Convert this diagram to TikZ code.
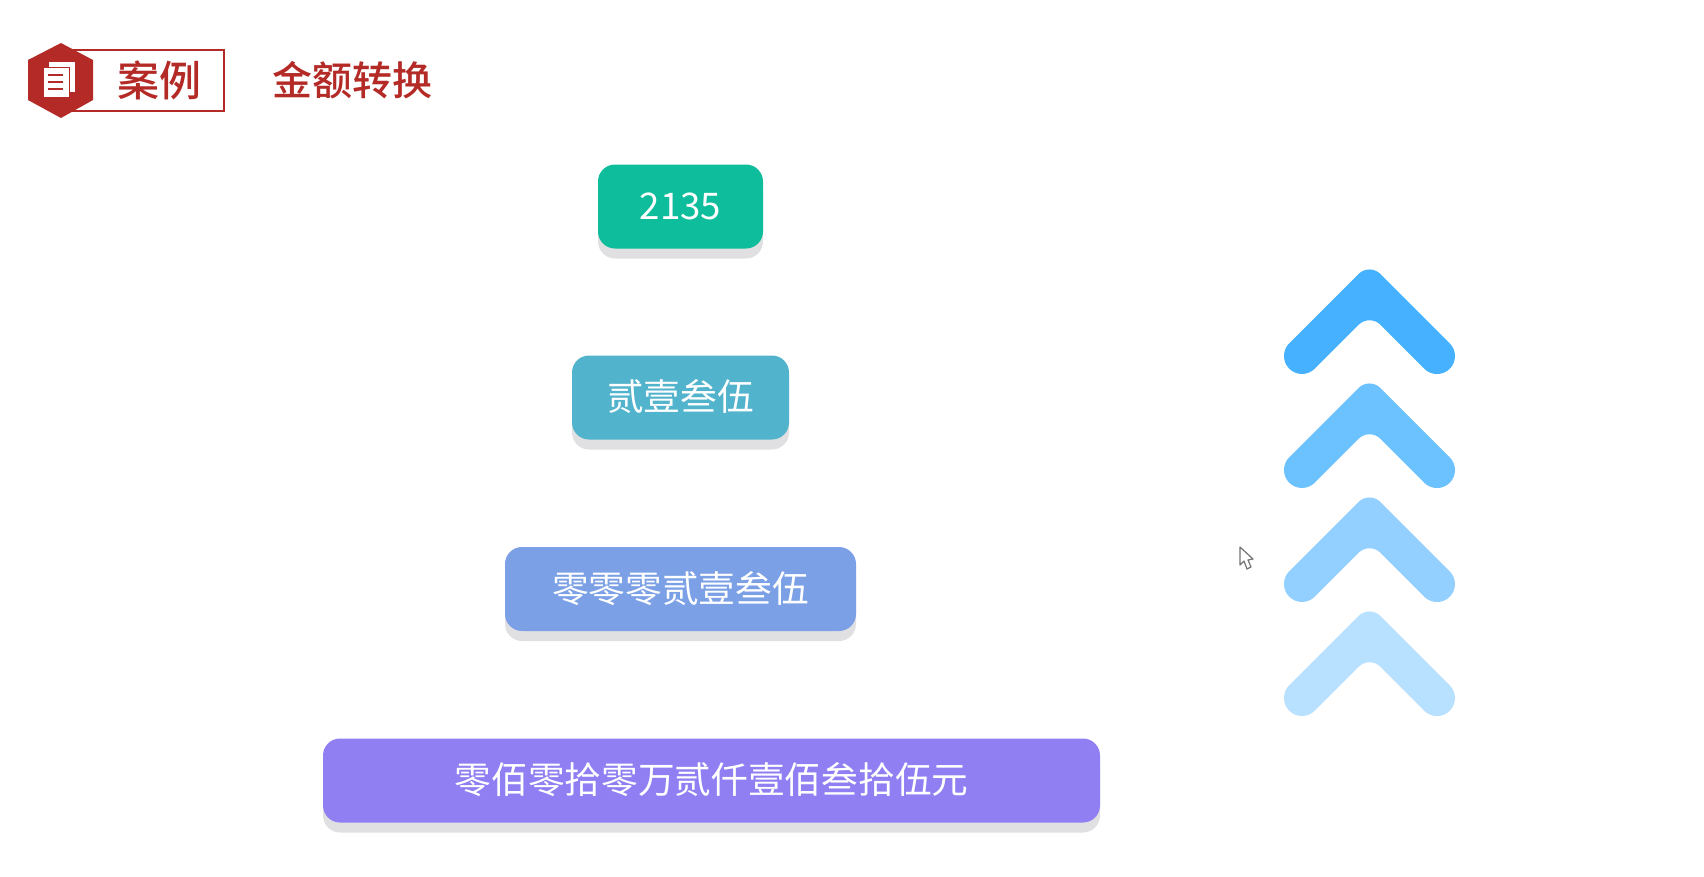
\documentclass[tikz,border=0pt]{standalone}
\usepackage{fontspec}
\usepackage{xcolor}
\usepackage{tikz}
\usetikzlibrary{shadows}
\newfontfamily\cjk{Noto Sans CJK SC}
\newfontfamily\cjkmed{Noto Sans CJK SC Medium}
\definecolor{case_red}{RGB}{180, 42, 38}
\definecolor{step_green}{RGB}{13, 189, 156}
\definecolor{step_teal}{RGB}{82, 179, 204}
\definecolor{step_blue}{RGB}{123, 160, 230}
\definecolor{step_purple}{RGB}{143, 127, 242}
\definecolor{shadow_grey}{RGB}{224, 224, 226}

\begin{document}
\begin{tikzpicture}[x=1pt, y=-1pt, font=\cjk,
      stepbox/.style={rounded corners=17pt, text=white, align=center, inner sep=0pt,
        minimum height=84pt, text height=30pt, text depth=4pt, font=\cjk\fontsize{36.7}{40}\selectfont,
        general shadow={shadow xshift=0pt, shadow yshift=-10pt, fill=shadow_grey}},
      head/.style={text=case_red, inner sep=0pt, font=\cjkmed\fontsize{40}{44}\selectfont}]
    \useasboundingbox (0,0) rectangle (1704,876);
    % header
    \draw[case_red, line width=1.8pt] (70,50) rectangle (224,111);
    \fill[case_red] (61,43) -- (93,60) -- (93,100) -- (61,118) -- (28,100) -- (28,60) -- cycle;
    \fill[white] (49,62) rectangle (75,92);
    \draw[case_red, line width=1pt, fill=white] (43,67) rectangle (69,97);
    \foreach \y in {75,82,89} \draw[case_red, line width=1.6pt] (48,\y) -- (63,\y);
    \node[head, font=\cjkmed\fontsize{42}{46}\selectfont] (tag) at (159,80) {案例};
    \node[head] (title) at (352,80) {金额转换};
    % steps
    \node[stepbox, fill=step_green, minimum width=165pt] (num) at (680.5,206.5) {2135};
    \node[stepbox, fill=step_teal, minimum width=217pt] (caps) at (680.5,397.5) {贰壹叁伍};
    \node[stepbox, fill=step_blue, minimum width=351pt] (pad) at (680.5,589) {零零零贰壹叁伍};
    \node[stepbox, fill=step_purple, minimum width=777pt] (units) at (711.5,780.5) {零佰零拾零万贰仟壹佰叁拾伍元};
    % chevrons
    \foreach \i/\c in {0/46B1FF, 1/6CC1FF, 2/93CFFF, 3/B8E0FF} {
      \definecolor{chev}{HTML}{\c}
      \begin{scope}[shift={(0,114*\i+1)}]
        \fill[chev] (1289.3,342.3) -- (1358.5,273) arc[start angle=-135, end angle=-45, radius=15.5]
          -- (1449.7,342.3) arc[start angle=-45, end angle=135, radius=18]
          -- (1380.5,323.8) arc[start angle=-45, end angle=-135, radius=15.5]
          -- (1314.7,367.7) arc[start angle=45, end angle=225, radius=18] -- cycle;
      \end{scope}
    }
    % cursor
    \draw[black!55, line width=1.2pt, fill=white, line join=round] (1240,547) -- (1240,565) -- (1244,561)
      -- (1247,569) -- (1251,567) -- (1248,560) -- (1253,559) -- cycle;
\end{tikzpicture}
\end{document}
